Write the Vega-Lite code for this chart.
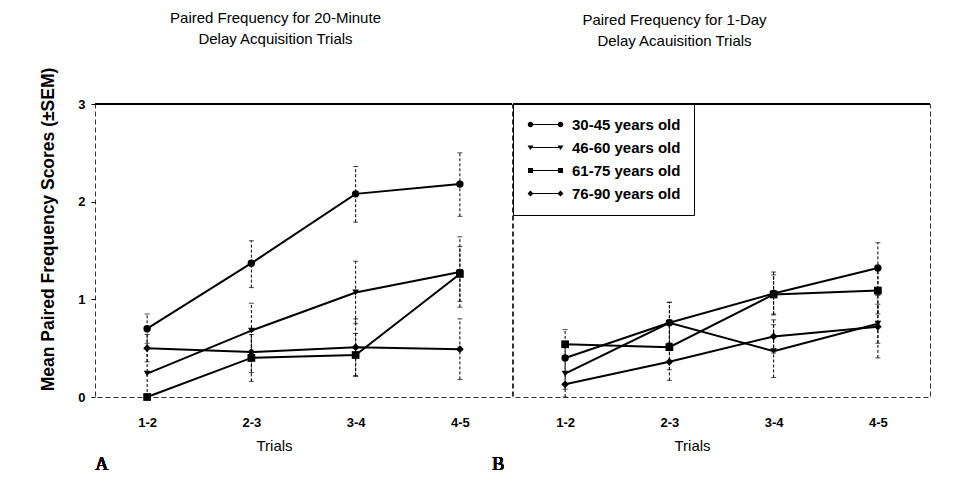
{
  "$schema": "https://vega.github.io/schema/vega-lite/v6.json",
  "padding": {"left": 39, "top": 10, "right": 5, "bottom": 5},
  "background": "white",
  "datasets": {
    "pts": [
      {"panel": "A", "trial": "1-2", "group": "30-45 years old", "mean": 0.70, "lo": 0.55, "hi": 0.85},
      {"panel": "A", "trial": "2-3", "group": "30-45 years old", "mean": 1.37, "lo": 1.12, "hi": 1.60},
      {"panel": "A", "trial": "3-4", "group": "30-45 years old", "mean": 2.08, "lo": 1.79, "hi": 2.36},
      {"panel": "A", "trial": "4-5", "group": "30-45 years old", "mean": 2.18, "lo": 1.85, "hi": 2.50},
      {"panel": "A", "trial": "1-2", "group": "46-60 years old", "mean": 0.24, "lo": 0.00, "hi": 0.50},
      {"panel": "A", "trial": "2-3", "group": "46-60 years old", "mean": 0.68, "lo": 0.40, "hi": 0.96},
      {"panel": "A", "trial": "3-4", "group": "46-60 years old", "mean": 1.07, "lo": 0.75, "hi": 1.39},
      {"panel": "A", "trial": "4-5", "group": "46-60 years old", "mean": 1.28, "lo": 0.92, "hi": 1.64},
      {"panel": "A", "trial": "1-2", "group": "61-75 years old", "mean": 0.00, "lo": 0.00, "hi": 0.00},
      {"panel": "A", "trial": "2-3", "group": "61-75 years old", "mean": 0.40, "lo": 0.16, "hi": 0.64},
      {"panel": "A", "trial": "3-4", "group": "61-75 years old", "mean": 0.43, "lo": 0.21, "hi": 0.65},
      {"panel": "A", "trial": "4-5", "group": "61-75 years old", "mean": 1.26, "lo": 0.98, "hi": 1.54},
      {"panel": "A", "trial": "1-2", "group": "76-90 years old", "mean": 0.50, "lo": 0.36, "hi": 0.64},
      {"panel": "A", "trial": "2-3", "group": "76-90 years old", "mean": 0.46, "lo": 0.25, "hi": 0.67},
      {"panel": "A", "trial": "3-4", "group": "76-90 years old", "mean": 0.51, "lo": 0.22, "hi": 0.80},
      {"panel": "A", "trial": "4-5", "group": "76-90 years old", "mean": 0.49, "lo": 0.18, "hi": 0.80},
      {"panel": "B", "trial": "1-2", "group": "30-45 years old", "mean": 0.40, "lo": 0.26, "hi": 0.54},
      {"panel": "B", "trial": "2-3", "group": "30-45 years old", "mean": 0.76, "lo": 0.55, "hi": 0.97},
      {"panel": "B", "trial": "3-4", "group": "30-45 years old", "mean": 1.06, "lo": 0.84, "hi": 1.28},
      {"panel": "B", "trial": "4-5", "group": "30-45 years old", "mean": 1.32, "lo": 1.05, "hi": 1.58},
      {"panel": "B", "trial": "1-2", "group": "46-60 years old", "mean": 0.24, "lo": 0.08, "hi": 0.40},
      {"panel": "B", "trial": "2-3", "group": "46-60 years old", "mean": 0.76, "lo": 0.55, "hi": 0.97},
      {"panel": "B", "trial": "3-4", "group": "46-60 years old", "mean": 0.47, "lo": 0.20, "hi": 0.74},
      {"panel": "B", "trial": "4-5", "group": "46-60 years old", "mean": 0.75, "lo": 0.55, "hi": 0.95},
      {"panel": "B", "trial": "1-2", "group": "61-75 years old", "mean": 0.54, "lo": 0.39, "hi": 0.69},
      {"panel": "B", "trial": "2-3", "group": "61-75 years old", "mean": 0.51, "lo": 0.28, "hi": 0.74},
      {"panel": "B", "trial": "3-4", "group": "61-75 years old", "mean": 1.05, "lo": 0.85, "hi": 1.25},
      {"panel": "B", "trial": "4-5", "group": "61-75 years old", "mean": 1.09, "lo": 0.85, "hi": 1.33},
      {"panel": "B", "trial": "1-2", "group": "76-90 years old", "mean": 0.13, "lo": 0.00, "hi": 0.26},
      {"panel": "B", "trial": "2-3", "group": "76-90 years old", "mean": 0.36, "lo": 0.17, "hi": 0.55},
      {"panel": "B", "trial": "3-4", "group": "76-90 years old", "mean": 0.62, "lo": 0.45, "hi": 0.79},
      {"panel": "B", "trial": "4-5", "group": "76-90 years old", "mean": 0.72, "lo": 0.40, "hi": 1.04}
    ]
  },
  "hconcat": [
    {
      "width": 417,
      "height": 293,
      "title": {"text": ["Paired Frequency for 20-Minute", "Delay Acquisition Trials"], "dx": -28, "offset": 20},
      "data": {"name": "pts"},
      "transform": [{"filter": "datum.panel === 'A'"}],
      "layer": [
        {"mark": {"type": "rule", "color": "black", "strokeWidth": 1.2}, "encoding": {"y": {"datum": 3, "type": "quantitative", "scale": {"domain": [0, 3], "nice": false}, "title": "Mean Paired Frequency Scores (±SEM)", "axis": {"values": [0, 1, 2, 3], "format": "d"}}}},
        {"mark": {"type": "rule", "color": "black", "strokeWidth": 1, "strokeDash": [3, 2]},
         "encoding": {
           "x": {"field": "trial", "type": "ordinal", "scale": {"type": "point", "padding": 0.5}, "title": "Trials"},
           "y": {"field": "lo", "type": "quantitative", "scale": {"domain": [0, 3], "nice": false}, "title": "Mean Paired Frequency Scores (±SEM)", "axis": {"values": [0, 1, 2, 3], "format": "d"}},
           "y2": {"field": "hi"},
           "detail": {"field": "group"}}},
        {"mark": {"type": "tick", "color": "black", "size": 5, "thickness": 1},
         "encoding": {
           "x": {"field": "trial", "type": "ordinal", "scale": {"type": "point", "padding": 0.5}, "title": "Trials"},
           "y": {"field": "hi", "type": "quantitative", "scale": {"domain": [0, 3], "nice": false}, "title": "Mean Paired Frequency Scores (±SEM)", "axis": {"values": [0, 1, 2, 3], "format": "d"}}}},
        {"mark": {"type": "tick", "color": "black", "size": 5, "thickness": 1},
         "encoding": {
           "x": {"field": "trial", "type": "ordinal", "scale": {"type": "point", "padding": 0.5}, "title": "Trials"},
           "y": {"field": "lo", "type": "quantitative", "scale": {"domain": [0, 3], "nice": false}, "title": "Mean Paired Frequency Scores (±SEM)", "axis": {"values": [0, 1, 2, 3], "format": "d"}}}},
        {"mark": {"type": "line", "color": "black", "strokeWidth": 2},
         "encoding": {
           "x": {"field": "trial", "type": "ordinal", "scale": {"type": "point", "padding": 0.5}, "title": "Trials"},
           "y": {"field": "mean", "type": "quantitative", "scale": {"domain": [0, 3], "nice": false}, "title": "Mean Paired Frequency Scores (±SEM)", "axis": {"values": [0, 1, 2, 3], "format": "d"}},
           "detail": {"field": "group"}}},
        {"transform": [{"filter": "datum.group === '30-45 years old'"}],
         "mark": {"type": "point", "shape": "circle", "filled": true, "color": "black", "opacity": 1, "size": 55},
         "encoding": {
           "x": {"field": "trial", "type": "ordinal", "scale": {"type": "point", "padding": 0.5}, "title": "Trials"},
           "y": {"field": "mean", "type": "quantitative", "scale": {"domain": [0, 3], "nice": false}, "title": "Mean Paired Frequency Scores (±SEM)", "axis": {"values": [0, 1, 2, 3], "format": "d"}}}},
        {"transform": [{"filter": "datum.group === '46-60 years old'"}],
         "mark": {"type": "point", "shape": "triangle-down", "filled": true, "color": "black", "opacity": 1, "size": 45},
         "encoding": {
           "x": {"field": "trial", "type": "ordinal", "scale": {"type": "point", "padding": 0.5}, "title": "Trials"},
           "y": {"field": "mean", "type": "quantitative", "scale": {"domain": [0, 3], "nice": false}, "title": "Mean Paired Frequency Scores (±SEM)", "axis": {"values": [0, 1, 2, 3], "format": "d"}}}},
        {"transform": [{"filter": "datum.group === '61-75 years old'"}],
         "mark": {"type": "point", "shape": "square", "filled": true, "color": "black", "opacity": 1, "size": 60},
         "encoding": {
           "x": {"field": "trial", "type": "ordinal", "scale": {"type": "point", "padding": 0.5}, "title": "Trials"},
           "y": {"field": "mean", "type": "quantitative", "scale": {"domain": [0, 3], "nice": false}, "title": "Mean Paired Frequency Scores (±SEM)", "axis": {"values": [0, 1, 2, 3], "format": "d"}}}},
        {"transform": [{"filter": "datum.group === '76-90 years old'"}],
         "mark": {"type": "point", "shape": "diamond", "filled": true, "color": "black", "opacity": 1, "size": 60},
         "encoding": {
           "x": {"field": "trial", "type": "ordinal", "scale": {"type": "point", "padding": 0.5}, "title": "Trials"},
           "y": {"field": "mean", "type": "quantitative", "scale": {"domain": [0, 3], "nice": false}, "title": "Mean Paired Frequency Scores (±SEM)", "axis": {"values": [0, 1, 2, 3], "format": "d"}}}},
        {"mark": {"type": "text", "text": "A", "font": "Liberation Serif", "fontSize": 18, "align": "left", "baseline": "middle", "dx": -52, "color": "black"},
         "encoding": {
           "x": {"datum": "1-2", "type": "ordinal", "scale": {"type": "point", "padding": 0.5}, "title": "Trials"},
           "y": {"datum": -0.70, "type": "quantitative", "scale": {"domain": [0, 3], "nice": false}, "title": "Mean Paired Frequency Scores (±SEM)", "axis": {"values": [0, 1, 2, 3], "format": "d"}}}}
      ]
    },
    {
      "width": 417,
      "height": 293,
      "title": {"text": ["Paired Frequency for 1-Day", "Delay Acauisition Trials"], "dx": -47, "offset": 54},
      "data": {"name": "pts"},
      "transform": [{"filter": "datum.panel === 'B'"}],
      "layer": [
        {"mark": {"type": "rule", "color": "black", "strokeWidth": 1.2}, "encoding": {"y": {"datum": 3, "type": "quantitative", "scale": {"domain": [0, 3], "nice": false}, "axis": null}}},
        {"mark": {"type": "rule", "color": "black", "strokeWidth": 1, "strokeDash": [3, 2]},
         "encoding": {
           "x": {"field": "trial", "type": "ordinal", "scale": {"type": "point", "padding": 0.5}, "title": "Trials"},
           "y": {"field": "lo", "type": "quantitative", "scale": {"domain": [0, 3], "nice": false}, "axis": null},
           "y2": {"field": "hi"},
           "detail": {"field": "group"}}},
        {"mark": {"type": "tick", "color": "black", "size": 5, "thickness": 1},
         "encoding": {
           "x": {"field": "trial", "type": "ordinal", "scale": {"type": "point", "padding": 0.5}, "title": "Trials"},
           "y": {"field": "hi", "type": "quantitative", "scale": {"domain": [0, 3], "nice": false}, "axis": null}}},
        {"mark": {"type": "tick", "color": "black", "size": 5, "thickness": 1},
         "encoding": {
           "x": {"field": "trial", "type": "ordinal", "scale": {"type": "point", "padding": 0.5}, "title": "Trials"},
           "y": {"field": "lo", "type": "quantitative", "scale": {"domain": [0, 3], "nice": false}, "axis": null}}},
        {"mark": {"type": "line", "color": "black", "strokeWidth": 2},
         "encoding": {
           "x": {"field": "trial", "type": "ordinal", "scale": {"type": "point", "padding": 0.5}, "title": "Trials"},
           "y": {"field": "mean", "type": "quantitative", "scale": {"domain": [0, 3], "nice": false}, "axis": null},
           "detail": {"field": "group"}}},
        {"transform": [{"filter": "datum.group === '30-45 years old'"}],
         "mark": {"type": "point", "shape": "circle", "filled": true, "color": "black", "opacity": 1, "size": 55},
         "encoding": {
           "x": {"field": "trial", "type": "ordinal", "scale": {"type": "point", "padding": 0.5}, "title": "Trials"},
           "y": {"field": "mean", "type": "quantitative", "scale": {"domain": [0, 3], "nice": false}, "axis": null}}},
        {"transform": [{"filter": "datum.group === '46-60 years old'"}],
         "mark": {"type": "point", "shape": "triangle-down", "filled": true, "color": "black", "opacity": 1, "size": 45},
         "encoding": {
           "x": {"field": "trial", "type": "ordinal", "scale": {"type": "point", "padding": 0.5}, "title": "Trials"},
           "y": {"field": "mean", "type": "quantitative", "scale": {"domain": [0, 3], "nice": false}, "axis": null}}},
        {"transform": [{"filter": "datum.group === '61-75 years old'"}],
         "mark": {"type": "point", "shape": "square", "filled": true, "color": "black", "opacity": 1, "size": 60},
         "encoding": {
           "x": {"field": "trial", "type": "ordinal", "scale": {"type": "point", "padding": 0.5}, "title": "Trials"},
           "y": {"field": "mean", "type": "quantitative", "scale": {"domain": [0, 3], "nice": false}, "axis": null}}},
        {"transform": [{"filter": "datum.group === '76-90 years old'"}],
         "mark": {"type": "point", "shape": "diamond", "filled": true, "color": "black", "opacity": 1, "size": 60},
         "encoding": {
           "x": {"field": "trial", "type": "ordinal", "scale": {"type": "point", "padding": 0.5}, "title": "Trials"},
           "y": {"field": "mean", "type": "quantitative", "scale": {"domain": [0, 3], "nice": false}, "axis": null}}},
        {"mark": {"type": "text", "text": "B", "font": "Liberation Serif", "fontSize": 18, "align": "left", "baseline": "middle", "dx": -73, "color": "black"},
         "encoding": {
           "x": {"datum": "1-2", "type": "ordinal", "scale": {"type": "point", "padding": 0.5}, "title": "Trials"},
           "y": {"datum": -0.70, "type": "quantitative", "scale": {"domain": [0, 3], "nice": false}, "axis": null}}},
        {"transform": [{"filter": "false"}],
         "mark": {"type": "point", "filled": true, "color": "black", "opacity": 1},
         "encoding": {
           "shape": {"field": "group", "type": "nominal",
             "scale": {
               "domain": ["30-45 years old", "46-60 years old", "61-75 years old", "76-90 years old"],
               "range": [
                 "M-3,-0.08L3,-0.08L3,0.08L-3,0.08ZM-3.55,0a0.55 0.55 0 1 1 1.1 0a0.55 0.55 0 1 1 -1.1 0ZM2.45,0a0.55 0.55 0 1 1 1.1 0a0.55 0.55 0 1 1 -1.1 0Z",
                 "M-3,-0.08L3,-0.08L3,0.08L-3,0.08ZM-3.6,-0.4L-2.4,-0.4L-3,0.5ZM2.4,-0.4L3.6,-0.4L3,0.5Z",
                 "M-3,-0.08L3,-0.08L3,0.08L-3,0.08ZM-3.5,-0.5L-2.5,-0.5L-2.5,0.5L-3.5,0.5ZM2.5,-0.5L3.5,-0.5L3.5,0.5L2.5,0.5Z",
                 "M-3,-0.08L3,-0.08L3,0.08L-3,0.08ZM-3,-0.6L-2.4,0L-3,0.6L-3.6,0ZM3,-0.6L3.6,0L3,0.6L2.4,0Z"
               ]},
             "legend": {
               "title": null, "orient": "none", "legendX": 0, "legendY": 0,
               "padding": 13, "strokeColor": "black", "symbolSize": 100, "symbolStrokeWidth": 1.2,
               "symbolFillColor": "black", "symbolStrokeColor": "black", "symbolOffset": 12, "labelOffset": 19,
               "labelFont": "Liberation Sans", "labelFontSize": 15, "labelFontWeight": "bold", "labelColor": "black",
               "rowPadding": 7,
               "encode": {
                 "legend": {"update": {"strokeDash": {"value": [4, 2]}}},
                 "symbols": {"update": {"stroke": {"value": "black"}, "strokeWidth": {"value": 1.2}, "fill": {"value": "black"}, "opacity": {"value": 1}}}
               }
             }}}}
      ]
    }
  ],
  "resolve": {"legend": {"shape": "independent"}, "scale": {"shape": "independent"}},
  "spacing": 1,
  "bounds": "flush",
  "config": {
    "font": "Liberation Sans",
    "view": {"stroke": "#333", "strokeDash": [5, 3], "strokeWidth": 1},
    "title": {"fontSize": 15, "fontWeight": "normal", "lineHeight": 21, "anchor": "middle", "frame": "group", "color": "black", "font": "Liberation Sans"},
    "axis": {"labelFont": "Liberation Sans", "labelFontWeight": "bold", "labelFontSize": 13, "labelColor": "black", "titleColor": "black", "titleFont": "Liberation Sans", "domain": false, "grid": false, "tickColor": "black"},
    "axisX": {"ticks": false, "labelPadding": 19, "labelAngle": 0, "titleFontSize": 15, "titleFontWeight": "normal", "titleX": 179, "titleY": 48, "titleBaseline": "middle"},
    "axisY": {"tickSize": 4, "labelPadding": 6, "titleFontSize": 17.5, "titleFontWeight": "bold", "titlePadding": 20, "titleY": 125}
  }
}
